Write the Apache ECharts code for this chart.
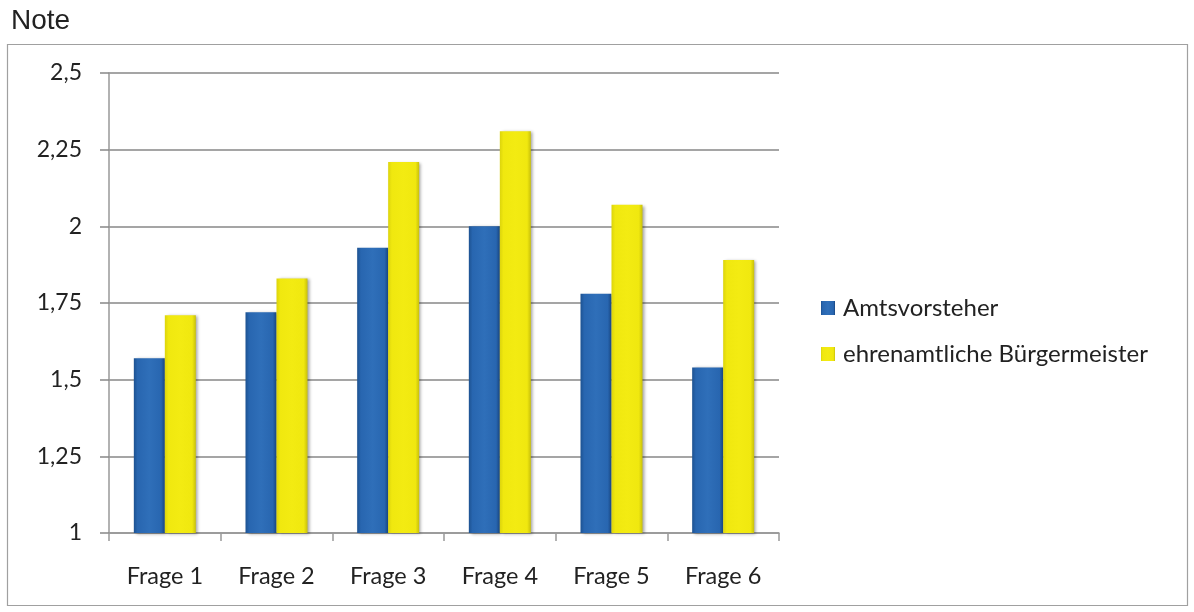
<!DOCTYPE html>
<html>
<head>
<meta charset="utf-8">
<script src="https://cdn.jsdelivr.net/npm/echarts@6/dist/echarts.min.js"></script>
<style>
  html, body { margin: 0; padding: 0; background: #fff; }
  #chart { width: 1194px; height: 612px; }
</style>
</head>
<body>
<div id="chart"></div>
<script>
// Questions and average grades per group
const categories = ['Frage 1', 'Frage 2', 'Frage 3', 'Frage 4', 'Frage 5', 'Frage 6'];
const amtsvorsteher = [1.57, 1.72, 1.93, 2.00, 1.78, 1.54];
const buergermeister = [1.71, 1.83, 2.21, 2.31, 2.07, 1.89];
const seriesNames = ['Amtsvorsteher', 'ehrenamtliche Bürgermeister'];
const axisTitle = 'Note';

const fontFamily = 'Lato, "Open Sans", sans-serif';

// Bars get a soft horizontal shading to suggest a bevelled column
const blueFill = new echarts.graphic.LinearGradient(0, 0, 1, 0, [
  { offset: 0, color: '#1d5291' },
  { offset: 0.12, color: '#2866b0' },
  { offset: 0.5, color: '#2f6fb9' },
  { offset: 0.88, color: '#2866b0' },
  { offset: 1, color: '#184580' }
]);
const yellowFill = new echarts.graphic.LinearGradient(0, 0, 1, 0, [
  { offset: 0, color: '#dcd40c' },
  { offset: 0.12, color: '#f0e80f' },
  { offset: 0.5, color: '#f3eb12' },
  { offset: 0.88, color: '#f0e80f' },
  { offset: 1, color: '#c8c00a' }
]);

const chart = echarts.init(document.getElementById('chart'), null, { renderer: 'canvas' });

chart.setOption({
  animation: false,
  backgroundColor: '#ffffff',
  graphic: [
    {
      type: 'rect',
      shape: { x: 7.5, y: 44.5, width: 1180, height: 561 },
      style: { fill: 'none', stroke: '#a0a0a0', lineWidth: 1.2 },
      z: -1
    },
    {
      type: 'text',
      left: 11,
      top: 7,
      style: { text: axisTitle, font: '28px "Liberation Sans", Arial, sans-serif', fill: '#222' }
    }
  ],
  legend: {
    orient: 'vertical',
    left: 821,
    top: 296,
    padding: 0,
    itemWidth: 14,
    itemHeight: 14,
    itemGap: 22,
    icon: 'rect',
    textStyle: { fontFamily: fontFamily, fontSize: 24, color: '#222', padding: [0, 0, 0, 3] },
    data: seriesNames
  },
  grid: { left: 109, right: 415, top: 73, bottom: 79, containLabel: false },
  xAxis: {
    type: 'category',
    data: categories,
    axisLine: { show: true, lineStyle: { color: '#999999', width: 1.5 } },
    axisTick: { show: true, length: 8, lineStyle: { color: '#999999', width: 1.5 } },
    axisLabel: { fontFamily: fontFamily, fontSize: 23.5, color: '#222', margin: 31 }
  },
  yAxis: {
    type: 'value',
    min: 1,
    max: 2.5,
    interval: 0.25,
    axisLine: { show: true, lineStyle: { color: '#999999', width: 1.5 } },
    axisTick: { show: true, length: 9, lineStyle: { color: '#888888', width: 1.5 } },
    splitLine: { show: true, lineStyle: { color: '#878787', width: 1.5 } },
    axisLabel: {
      fontFamily: fontFamily,
      fontSize: 23,
      color: '#222',
      margin: 27,
      formatter: v => String(v).replace('.', ',')
    }
  },
  series: [
    {
      name: seriesNames[0],
      type: 'bar',
      data: amtsvorsteher,
      barWidth: 31,
      barGap: '0%',
      itemStyle: {
        color: blueFill,
        shadowColor: 'rgba(0,0,0,0.35)',
        shadowBlur: 3,
        shadowOffsetX: 2,
        shadowOffsetY: 1
      }
    },
    {
      name: seriesNames[1],
      type: 'bar',
      data: buergermeister,
      barWidth: 31,
      barGap: '0%',
      itemStyle: {
        color: yellowFill,
        shadowColor: 'rgba(0,0,0,0.35)',
        shadowBlur: 3,
        shadowOffsetX: 2,
        shadowOffsetY: 1
      }
    }
  ]
});
</script>
</body>
</html>
